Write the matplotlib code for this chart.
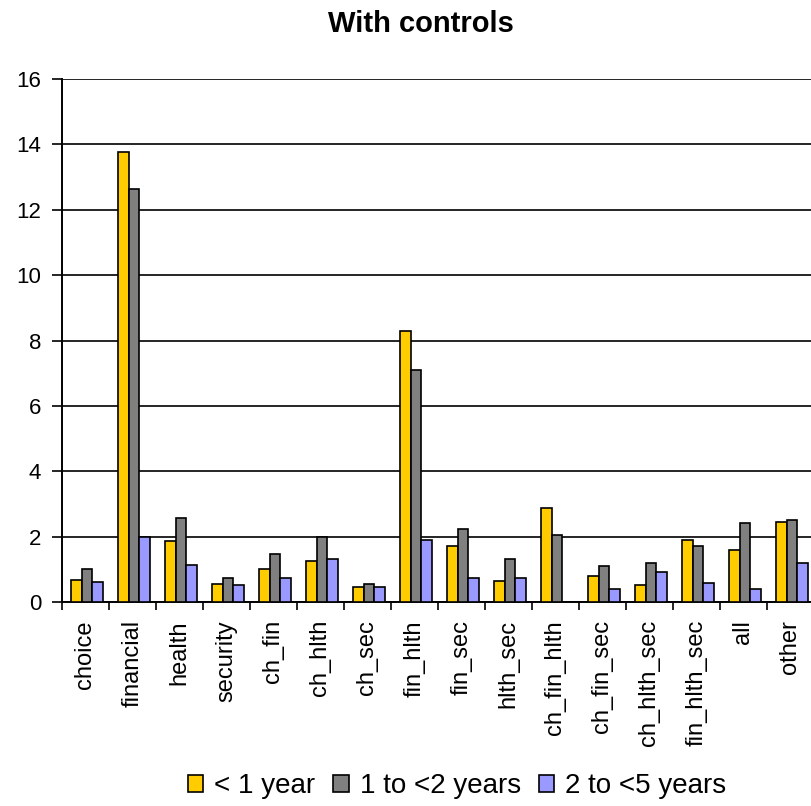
import matplotlib
matplotlib.use("Agg")
import matplotlib.pyplot as plt
import numpy as np

plt.rcParams['font.family'] = ['Liberation Sans', 'DejaVu Sans']

categories = ["choice", "financial", "health", "security", "ch_fin", "ch_hlth",
              "ch_sec", "fin_hlth", "fin_sec", "hlth_sec", "ch_fin_hlth",
              "ch_fin_sec", "ch_hlth_sec", "fin_hlth_sec", "all", "other"]
under_1 = [0.67, 13.78, 1.88, 0.56, 1.02, 1.24, 0.45, 8.29, 1.71, 0.63, 2.87,
           0.81, 0.52, 1.89, 1.60, 2.46]
one_to_2 = [1.02, 12.64, 2.57, 0.73, 1.48, 2.00, 0.56, 7.10, 2.23, 1.33, 2.06,
            1.09, 1.20, 1.71, 2.41, 2.52]
two_to_5 = [0.61, 2.00, 1.14, 0.51, 0.73, 1.31, 0.45, 1.89, 0.74, 0.74, 0.0,
            0.41, 0.92, 0.57, 0.41, 1.20]
series_names = ["< 1 year", "1 to <2 years", "2 to <5 years"]
colors = ["#FFCC00", "#808080", "#9999FF"]

W, H = 812, 806
fig = plt.figure(figsize=(W / 100, H / 100), dpi=100)
ax = fig.add_axes([62 / W, 1 - 602 / H, 752 / W, (602 - 79) / H])

x = np.arange(len(categories))
bw = 0.227
for i, (vals, name, c) in enumerate(zip([under_1, one_to_2, two_to_5], series_names, colors)):
    ax.bar(x + (i - 1) * bw + 0.03, vals, width=bw, color=c, edgecolor="black",
           linewidth=1.2, label=name, zorder=3)

ax.set_xlim(-0.5, len(categories) - 0.5)
ax.set_ylim(0, 16)
ax.set_yticks(np.arange(0, 17, 2))
ax.yaxis.grid(True, color="black", linewidth=1.2, zorder=0)
ax.set_axisbelow(True)

# category boundaries carry the tick marks, centres carry the labels
ax.set_xticks(np.arange(len(categories) + 1) - 0.5)
ax.set_xticklabels([])
ax.set_xticks(x, minor=True)
ax.set_xticklabels(categories, minor=True, rotation=90, fontsize=17)
ax.tick_params(axis="x", which="major", length=6, width=1.2, direction="out")
ax.tick_params(axis="x", which="minor", length=0, pad=13)
ax.tick_params(axis="y", length=7, width=1.2, labelsize=16, pad=8)

for s in ["top", "right"]:
    ax.spines[s].set_visible(False)
for s in ["left", "bottom"]:
    ax.spines[s].set_linewidth(1.4)

fig.text(421 / W, 1 - 32 / H, "With controls", ha="center", va="baseline",
         fontsize=21, fontweight="bold")

handles, labels = ax.get_legend_handles_labels()
fig.legend(handles, labels, loc="center", bbox_to_anchor=(457 / W, 1 - 786 / H),
           ncol=3, frameon=False, fontsize=20, handlelength=0.55, handleheight=0.55,
           handletextpad=0.4, columnspacing=0.65, borderaxespad=0)

fig.savefig("out.png", dpi=100)
